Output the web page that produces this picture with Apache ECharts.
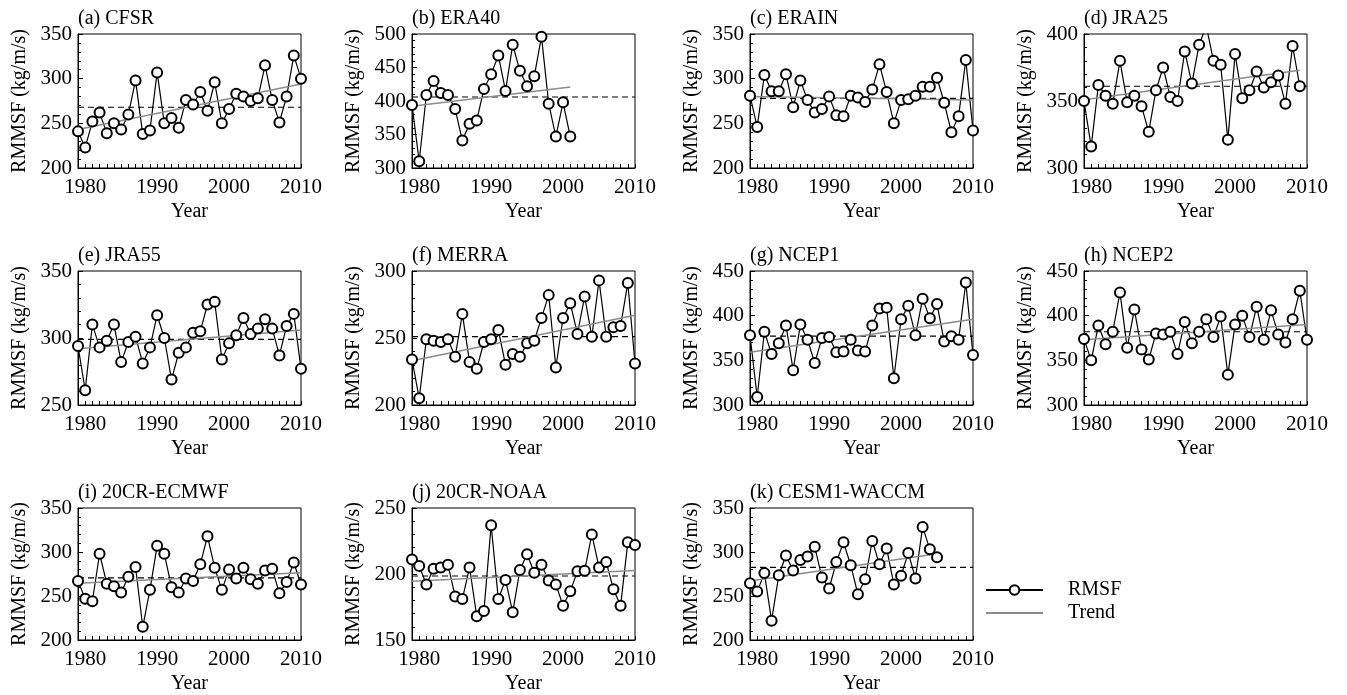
<!DOCTYPE html>
<html>
<head>
<meta charset="utf-8">
<script src="https://cdn.jsdelivr.net/npm/echarts@6/dist/echarts.min.js"></script>
<style>
  html, body { margin: 0; padding: 0; background: #fff; }
  #chart { width: 1347px; height: 695px; }
</style>
</head>
<body>
<div id="chart"></div>
<script>
// all series start in 1979, one value per year
const startYear = 1979
const titles = ['(a) CFSR', '(b) ERA40', '(c) ERAIN', '(d) JRA25', '(e) JRA55', '(f) MERRA',
  '(g) NCEP1', '(h) NCEP2', '(i) 20CR-ECMWF', '(j) 20CR-NOAA', '(k) CESM1-WACCM']

const cfsr = [241, 223, 252, 262, 239, 250, 243, 260, 298, 238, 242, 307, 250, 256, 245, 276,
  271, 285, 264, 296, 250, 266, 283, 280, 275, 278, 315, 276, 251, 280, 326, 300]
const era40 = [394, 310, 409, 430, 412, 409, 388, 341, 366, 371, 418, 440, 468, 415, 484, 445,
  422, 437, 496, 396, 347, 398, 347]
const erain = [281, 246, 304, 286, 286, 305, 268, 298, 276, 262, 266, 280, 259, 258, 281, 279,
  274, 288, 316, 285, 250, 276, 277, 281, 291, 291, 301, 273, 240, 258, 321, 242]
const jra25 = [350, 316, 362, 354, 348, 380, 349, 354, 346, 327, 358, 375, 353, 350, 387, 363,
  392, 406, 380, 377, 321, 385, 352, 358, 372, 360, 364, 369, 348, 391, 361]
const jra55 = [294, 261, 310, 293, 298, 310, 282, 297, 301, 281, 293, 317, 300, 269, 289, 293,
  304, 305, 325, 327, 284, 296, 302, 315, 303, 307, 314, 307, 287, 309, 318, 277]
const merra = [234, 205, 249, 248, 247, 249, 236, 268, 232, 227, 247, 249, 256, 230, 238, 236,
  246, 248, 265, 282, 228, 265, 276, 253, 281, 251, 293, 251, 258, 259, 291, 231]
const ncep1 = [378, 309, 382, 357, 369, 389, 339, 390, 373, 347, 375, 376, 359, 360, 373, 361,
  360, 389, 408, 409, 330, 396, 411, 378, 419, 397, 413, 371, 377, 373, 437, 356]
const ncep2 = [374, 350, 389, 368, 382, 426, 364, 407, 362, 351, 380, 379, 382, 357, 393, 369,
  382, 396, 376, 399, 334, 390, 400, 376, 410, 373, 406, 379, 370, 396, 428, 373]
const cr20Ecmwf = [267, 247, 244, 298, 264, 261, 254, 272, 283, 215, 257, 307, 298, 260, 254, 270,
  267, 286, 318, 282, 257, 280, 270, 282, 269, 264, 279, 281, 253, 266, 288, 263]
const cr20Noaa = [211, 206, 192, 204, 205, 207, 183, 181, 205, 168, 172, 237, 181, 195.5, 171, 203,
  215, 201, 207, 195, 192, 176, 187, 202, 202.5, 230, 205, 209, 188.5, 176, 224, 222]
const cesm1Waccm = [264.5, 255, 276, 222, 273.5, 296, 279, 291, 295, 306, 271, 258.5, 288.5, 311, 285, 252,
  269, 312.5, 286, 304, 263, 273, 299, 270, 328.5, 303, 294]

const rmsf = [cfsr, era40, erain, jra25, jra55, merra, ncep1, ncep2, cr20Ecmwf, cr20Noaa, cesm1Waccm]

// y axis range (tick labels) per panel
const yMin = [200, 300, 200, 300, 250, 200, 300, 300, 200, 150, 200]
const yMax = [350, 500, 350, 400, 350, 300, 450, 450, 350, 250, 350]

// mean (dashed) and trend line ends
const means = [268, 406, 278, 361, 299, 251, 377, 382, 270.5, 198.5, 282.5]
const trendStart = [243, 392, 280, 351, 292, 233, 359, 373, 264.5, 194.5, 267]
const trendEnd = [294, 421, 276, 373, 306, 267, 396, 390, 276.5, 202.7, 298]

const FONT = '"Liberation Serif", "Times New Roman", serif'
const colLeft = [78, 412, 750, 1084]
const rowTop = [34, 271, 508]
const W = 223
const H = 134

const chart = echarts.init(document.getElementById('chart'))

const grid = []
const xAxis = []
const yAxis = []
const title = []
const series = []

rmsf.forEach((vals, i) => {
  const left = colLeft[i % 4]
  const top = rowTop[Math.floor(i / 4)]
  grid.push({
    left: left, top: top, width: W, height: H,
    show: true, borderColor: '#000', borderWidth: 1
  })
  title.push({
    text: titles[i], left: left - 5, top: top - 30,
    textStyle: { fontFamily: FONT, fontSize: 20, fontWeight: 'normal', color: '#000' }
  })
  xAxis.push({
    type: 'value', gridIndex: i, min: 1979, max: 2010, interval: 1,
    name: 'Year', nameLocation: 'middle', nameGap: 34,
    nameTextStyle: { fontFamily: FONT, fontSize: 20, color: '#000' },
    axisLine: { lineStyle: { color: '#000', width: 1 } },
    axisTick: { inside: true, length: 4, lineStyle: { color: '#000' } },
    axisLabel: {
      fontFamily: FONT, fontSize: 21, color: '#000', margin: 9,
      formatter: v => (v % 10 === 0 ? String(v) : '')
    },
    splitLine: { show: false }
  })
  yAxis.push({
    type: 'value', gridIndex: i, min: yMin[i], max: yMax[i], interval: 50,
    name: 'RMMSF (kg/m/s)', nameLocation: 'middle', nameGap: 48,
    nameTextStyle: { fontFamily: FONT, fontSize: 20, color: '#000' },
    axisLine: { show: true, lineStyle: { color: '#000', width: 1 } },
    axisTick: { inside: true, length: 5, lineStyle: { color: '#000' } },
    minorTick: { show: true, splitNumber: 5, length: 3, lineStyle: { color: '#000' } },
    axisLabel: { fontFamily: FONT, fontSize: 21, color: '#000', margin: 6 },
    splitLine: { show: false }
  })
  const lastYear = startYear + vals.length - 1
  series.push({
    name: 'Mean', type: 'line', xAxisIndex: i, yAxisIndex: i,
    data: [[1979, means[i]], [2010, means[i]]],
    symbol: 'none', silent: true,
    lineStyle: { color: '#000', width: 1.2, type: [6, 4] }
  })
  series.push({
    name: 'RMSF', type: 'line', xAxisIndex: i, yAxisIndex: i,
    data: vals.map((v, k) => [startYear + k, v]),
    symbol: 'emptyCircle', symbolSize: 10, clip: true,
    itemStyle: { color: '#000', borderColor: '#000', borderWidth: 1.2 },
    lineStyle: { color: '#000', width: 1.2 }
  })
  series.push({
    name: 'Trend', type: 'line', xAxisIndex: i, yAxisIndex: i,
    data: [[startYear, trendStart[i]], [lastYear, trendEnd[i]]],
    symbol: 'none',
    itemStyle: { color: '#8c8c8c' },
    lineStyle: { color: '#8c8c8c', width: 1.5 }
  })
})

chart.setOption({
  animation: false,
  title: title,
  grid: grid,
  xAxis: xAxis,
  yAxis: yAxis,
  legend: {
    data: ['RMSF', { name: 'Trend', itemStyle: { opacity: 0 } }],
    orient: 'vertical', left: 980, top: 575,
    itemWidth: 57, itemHeight: 12, itemGap: 3,
    textStyle: { fontFamily: FONT, fontSize: 20, color: '#000', padding: [0, 0, 0, 20] }
  },
  series: series
})
</script>
</body>
</html>
